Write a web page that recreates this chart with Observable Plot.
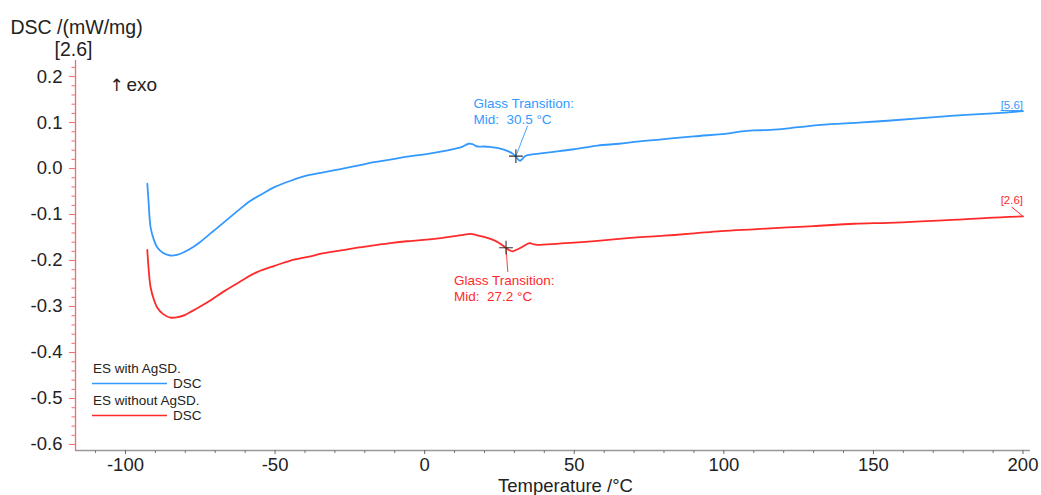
<!DOCTYPE html>
<html>
<head>
<meta charset="utf-8">
<script src="https://cdn.jsdelivr.net/npm/d3@7"></script>
<script src="https://cdn.jsdelivr.net/npm/@observablehq/plot@0.6"></script>
<style>
  html, body { margin: 0; padding: 0; background: #fff; }
  #chart { width: 1041px; height: 495px; overflow: hidden; }
</style>
</head>
<body>
<div id="chart"></div>
<script>
// ---------- data ----------
const withAgT = [-92.7, -92.3, -91.6, -90.5, -89.4, -87.5, -85, -82.5, -80.5, -77.5, -74.9, -71, -67.1, -62.5, -58.2, -54, -50.4, -45, -39.2, -33, -28.1, -22, -17, -11, -5.8, 0, 5.4, 10, 12, 14.8, 16, 17.6, 20, 22, 24.3, 26.5, 28.2, 29.5, 30.4, 31.2, 31.9, 32.8, 33.8, 36, 38.8, 45, 50, 57.8, 65, 70, 80, 90, 102.3, 106, 110, 115.7, 125, 132.4, 145, 154.7, 165, 177, 190, 200];
const withAgDSC = [-0.033, -0.07, -0.128, -0.155, -0.171, -0.183, -0.189, -0.187, -0.182, -0.171, -0.159, -0.138, -0.117, -0.092, -0.070, -0.054, -0.041, -0.027, -0.015, -0.007, -0.001, 0.007, 0.014, 0.020, 0.026, 0.031, 0.037, 0.043, 0.046, 0.054, 0.053, 0.048, 0.048, 0.047, 0.045, 0.041, 0.037, 0.032, 0.027, 0.020, 0.017, 0.022, 0.028, 0.031, 0.033, 0.038, 0.042, 0.050, 0.054, 0.058, 0.064, 0.070, 0.077, 0.081, 0.083, 0.084, 0.090, 0.095, 0.100, 0.104, 0.109, 0.115, 0.120, 0.125];

const withoutAgT = [-92.7, -92.3, -91.6, -90.5, -89.4, -87.5, -85, -82.5, -80, -78.3, -75, -71, -67.1, -62, -56, -50, -44.8, -39, -33.7, -28, -22.5, -17, -11.4, -6, -0.2, 5.4, 10, 13, 15.4, 17, 19.5, 22, 24.5, 27.1, 28.2, 29.3, 30.5, 32.1, 34, 35.2, 36.5, 37.7, 45, 50, 57.8, 65, 70, 80, 90, 99, 110, 121.3, 130, 143.6, 155, 165.9, 178, 188.2, 200];
const withoutAgDSC = [-0.177, -0.215, -0.258, -0.285, -0.302, -0.316, -0.324, -0.323, -0.318, -0.312, -0.300, -0.284, -0.267, -0.247, -0.225, -0.211, -0.200, -0.192, -0.184, -0.178, -0.172, -0.167, -0.162, -0.158, -0.155, -0.151, -0.147, -0.144, -0.142, -0.144, -0.148, -0.153, -0.160, -0.172, -0.177, -0.180, -0.177, -0.172, -0.165, -0.162, -0.165, -0.166, -0.163, -0.161, -0.157, -0.153, -0.150, -0.146, -0.141, -0.136, -0.132, -0.128, -0.125, -0.120, -0.118, -0.115, -0.111, -0.107, -0.104];

const seriesNames = ["ES with AgSD.", "ES without AgSD."];
const seriesColors = ["#3399ff", "#ff2a2a"];
const endLabels = ["[5.6]", "[2.6]"];

// glass transition annotations: marker point, leader end, text anchor (top-left)
const tgTemps = [30.5, 27.2];
const tgDSC = [0.027, -0.172];
const tgLeaderT = [34.4, 27.8];
const tgLeaderDSC = [0.093, -0.225];
const tgTextT = [16.3, 9.8];
const tgTextDSC = [0.157, -0.229];
const tgLabels = ["Glass Transition:\nMid:  30.5 °C", "Glass Transition:\nMid:  27.2 °C"];

const xDomain = [-116.7, 202.5];
const yDomain = [-0.613, 0.235];
const xTicks = [-100, -50, 0, 50, 100, 150, 200];
const yTicks = [0.2, 0.1, 0.0, -0.1, -0.2, -0.3, -0.4, -0.5, -0.6];
const xMinor = d3.range(-110, 201, 10).filter(v => v % 50 !== 0);
const yMinor = d3.range(-60, 23, 2).map(v => v / 100).filter(v => Math.round(v * 100) % 10 !== 0);

// ---------- build rows ----------
const rows = [
  ...withAgT.map((t, i) => ({series: seriesNames[0], T: t, dsc: withAgDSC[i]})),
  ...withoutAgT.map((t, i) => ({series: seriesNames[1], T: t, dsc: withoutAgDSC[i]}))
];
const tg = seriesNames.map((s, i) => ({
  series: s, T: tgTemps[i], dsc: tgDSC[i], lt: tgLeaderT[i], ld: tgLeaderDSC[i],
  tt: tgTextT[i], td: tgTextDSC[i], label: tgLabels[i], color: seriesColors[i]
}));
const ends = seriesNames.map((s, i) => {
  const T = i === 0 ? withAgT : withoutAgT;
  const D = i === 0 ? withAgDSC : withoutAgDSC;
  return {series: s, T: T[T.length - 1], dsc: D[D.length - 1], label: endLabels[i], color: seriesColors[i]};
});

const font = "'Liberation Sans', Arial, Helvetica, sans-serif";
const axisRed = "#f56b6b";

const chart = Plot.plot({
  width: 1041,
  height: 495,
  marginLeft: 75,
  marginRight: 11,
  marginTop: 60,
  marginBottom: 45,
  style: {fontFamily: font, background: "#fff", color: "#222", overflow: "visible"},
  x: {domain: xDomain},
  y: {domain: yDomain},
  color: {domain: seriesNames, range: seriesColors},
  marks: [
    // axis lines
    Plot.ruleX([xDomain[0]], {stroke: axisRed, strokeWidth: 1.3}),
    Plot.ruleY([yDomain[0]], {stroke: "#999", strokeWidth: 1.3}),
    // y axis
    Plot.axisY(yTicks, {tickSize: 6, tickPadding: 7, stroke: axisRed, fill: "#222", fontSize: 18.5,
      tickFormat: d => d.toFixed(1), label: null}),
    Plot.axisY(yMinor, {tickSize: 3.5, stroke: axisRed, text: null, label: null}),
    // x axis
    Plot.axisX(xTicks, {tickSize: 4, tickPadding: 3, stroke: "#666", fill: "#222", fontSize: 18.5,
      tickFormat: d => String(d), label: null}),
    Plot.axisX(xMinor, {tickSize: 3, stroke: "#777", text: null, label: null}),
    // curves
    Plot.line(rows, {x: "T", y: "dsc", z: "series", stroke: "series", strokeWidth: 1.8, curve: "catmull-rom"}),
    // glass transition leaders and markers
    Plot.link(tg, {x1: "T", y1: "dsc", x2: "lt", y2: "ld", stroke: "color", strokeWidth: 0.9}),
    Plot.dot(tg, {x: "T", y: "dsc", symbol: "plus", r: 4.5, stroke: "#333", strokeWidth: 1.1}),
    Plot.text(tg, {x: "tt", y: "td", text: "label", fill: "color", fontSize: 13.5, textAnchor: "start",
      lineAnchor: "top", lineHeight: 1.18}),
    // end labels
    Plot.text(ends, {x: "T", y: "dsc", text: "label", fill: "color", fontSize: 11.5, textAnchor: "end",
      lineAnchor: "bottom", dy: -2, filter: d => d.series === seriesNames[0]}),
    Plot.text(ends, {x: "T", y: "dsc", text: "label", fill: "color", fontSize: 11.5, textAnchor: "end",
      lineAnchor: "bottom", dy: -12, filter: d => d.series === seriesNames[1]}),
    // margin texts
    Plot.text(["DSC /(mW/mg)"], {frameAnchor: "top-left", dx: -65, dy: -27, textAnchor: "start",
      lineAnchor: "bottom", fontSize: 19.5, fill: "#222"}),
    Plot.text(["[2.6]"], {frameAnchor: "top-left", dx: -21, dy: -5, textAnchor: "start",
      lineAnchor: "bottom", fontSize: 19.5, fill: "#222"}),
    Plot.text(["↑"], {frameAnchor: "top-left", dx: 34, dy: 30, textAnchor: "start",
      lineAnchor: "bottom", fontSize: 17, fill: "#222", fontFamily: "'DejaVu Sans', sans-serif"}),
    Plot.text(["exo"], {frameAnchor: "top-left", dx: 51, dy: 30, textAnchor: "start",
      lineAnchor: "bottom", fontSize: 19, fill: "#222"}),
    Plot.text(["Temperature /°C"], {frameAnchor: "bottom", dx: 12.5, dy: 41, textAnchor: "middle",
      lineAnchor: "bottom", fontSize: 18.5, fill: "#222"})
  ]
});

document.getElementById("chart").appendChild(chart);

// small decorations for end labels + legend (non-data, drawn on top)
const svg = d3.select(chart);
const xs = chart.scale("x"), ys = chart.scale("y");
// underline for [5.6]
{
  const e = ends[0];
  const x2 = xs.apply(e.T), y = ys.apply(e.dsc);
  svg.append("line").attr("x1", x2 - 22).attr("x2", x2).attr("y1", y).attr("y2", y)
    .attr("stroke", e.color).attr("stroke-width", 1);
}
// leader for [2.6]
{
  const e = ends[1];
  const x2 = xs.apply(e.T), y = ys.apply(e.dsc);
  svg.append("line").attr("x1", x2 - 11).attr("y1", y - 9).attr("x2", x2).attr("y2", y)
    .attr("stroke", e.color).attr("stroke-width", 1);
}
// legend
const lg = svg.append("g").attr("font-family", font).attr("font-size", 13.5).attr("fill", "#222")
  .attr("text-anchor", "start");
seriesNames.forEach((name, i) => {
  const y0 = 373 + i * 32;
  lg.append("text").attr("x", 93).attr("y", y0).attr("text-anchor", "start").text(name);
  lg.append("line").attr("x1", 92).attr("x2", 167).attr("y1", y0 + 10.5).attr("y2", y0 + 10.5)
    .attr("stroke", seriesColors[i]).attr("stroke-width", 1.3);
  lg.append("text").attr("x", 173).attr("y", y0 + 15).attr("text-anchor", "start").text("DSC");
});
</script>
</body>
</html>
